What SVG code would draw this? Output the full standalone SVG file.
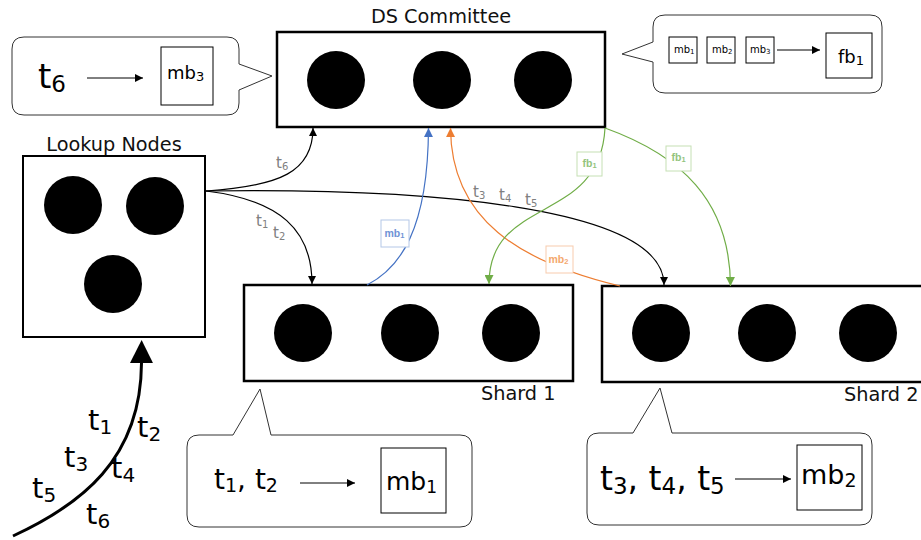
<svg xmlns="http://www.w3.org/2000/svg" width="921" height="540" viewBox="0 0 921 540">
  <style>
    .box { fill: #fff; stroke: #000; stroke-width: 2.5; }
    .dot { fill: #000; }
    .title { font-family: "DejaVu Sans", Verdana, sans-serif; font-size: 19.3px; fill: #111; }
    .txt { font-family: "DejaVu Sans", Verdana, sans-serif; fill: #000; }
    .bubble { fill: #fff; stroke: #333; stroke-width: 1; }
    .block { fill: #fff; stroke: #000; stroke-width: 1; }
    .link { fill: none; stroke: #000; stroke-width: 1.2; }
    .glabel { font-family: "DejaVu Sans", Verdana, sans-serif; font-size: 15px; fill: #808080; }
    .tag { font-family: "Liberation Sans", Arial, sans-serif; font-weight: bold; font-size: 10.5px; }
  </style>
  <defs>
    <marker id="arr" viewBox="0 0 10 10" refX="10" refY="5" markerUnits="userSpaceOnUse" markerWidth="9" markerHeight="8" orient="auto">
      <path d="M0,0 L10,5 L0,10 Z" fill="#000"/>
    </marker>
    <marker id="arrBlue" viewBox="0 0 10 10" refX="10" refY="5" markerUnits="userSpaceOnUse" markerWidth="9" markerHeight="9" orient="auto">
      <path d="M0,0 L10,5 L0,10 Z" fill="#4472C4"/>
    </marker>
    <marker id="arrOrange" viewBox="0 0 10 10" refX="10" refY="5" markerUnits="userSpaceOnUse" markerWidth="9" markerHeight="9" orient="auto">
      <path d="M0,0 L10,5 L0,10 Z" fill="#ED7D31"/>
    </marker>
    <marker id="arrGreen" viewBox="0 0 10 10" refX="10" refY="5" markerUnits="userSpaceOnUse" markerWidth="9" markerHeight="9" orient="auto">
      <path d="M0,0 L10,5 L0,10 Z" fill="#70AD47"/>
    </marker>
    <marker id="arrBig" viewBox="0 0 10 10" refX="0" refY="5" markerUnits="userSpaceOnUse" markerWidth="23" markerHeight="27" orient="auto">
      <path d="M0,0 L10,5 L0,10 Z" fill="#000"/>
    </marker>
  </defs>

  <!-- DS Committee -->
  <g id="ds-committee">
    <text class="title" x="441" y="23" text-anchor="middle">DS Committee</text>
    <rect class="box" x="277" y="32" width="328" height="95"/>
    <circle class="dot" cx="336" cy="80" r="29"/>
    <circle class="dot" cx="442" cy="80" r="29"/>
    <circle class="dot" cx="543" cy="80" r="29"/>
  </g>

  <!-- Lookup Nodes -->
  <g id="lookup-nodes">
    <text class="title" x="114" y="151" text-anchor="middle">Lookup Nodes</text>
    <rect class="box" x="23" y="156" width="182" height="181" style="stroke-width:2"/>
    <circle class="dot" cx="73" cy="205" r="29"/>
    <circle class="dot" cx="155" cy="206" r="29"/>
    <circle class="dot" cx="113" cy="284" r="29"/>
  </g>

  <!-- Shard 1 -->
  <g id="shard-1">
    <rect class="box" x="244" y="285" width="329" height="96"/>
    <circle class="dot" cx="303" cy="333" r="29"/>
    <circle class="dot" cx="410" cy="333" r="29"/>
    <circle class="dot" cx="511" cy="333" r="29"/>
    <text class="title" x="481" y="400">Shard 1</text>
  </g>

  <!-- Shard 2 -->
  <g id="shard-2">
    <rect class="box" x="602" y="286" width="330" height="96"/>
    <circle class="dot" cx="661" cy="333" r="29"/>
    <circle class="dot" cx="767" cy="333" r="29"/>
    <circle class="dot" cx="868" cy="333" r="29"/>
    <text class="title" x="844" y="401">Shard 2</text>
  </g>

  <!-- Callout: t6 -> mb3 -->
  <g id="callout-mb3">
    <path class="bubble" d="M 24 37 H 227 Q 239 37 239 49 V 64 L 272 76 L 239 90 V 103 Q 239 115 227 115 H 24 Q 12 115 12 103 V 49 Q 12 37 24 37 Z"/>
    <text class="txt" x="38" y="88" font-size="34">t<tspan font-size="23" dy="4">6</tspan></text>
    <path class="link" d="M 87 78 H 143" style="stroke-width:1" marker-end="url(#arr)"/>
    <rect class="block" x="161" y="47" width="52" height="58"/>
    <text class="txt" x="167" y="79" font-size="18">mb<tspan font-size="13" dy="2">3</tspan></text>
  </g>

  <!-- Callout: mb1, mb2, mb3 -> fb1 -->
  <g id="callout-fb1">
    <path class="bubble" d="M 665 15 H 870 Q 882 15 882 27 V 81 Q 882 93 870 93 H 665 Q 653 93 653 81 V 62 L 622 54 L 653 42 V 27 Q 653 15 665 15 Z"/>
    <rect class="block" x="669" y="37" width="28" height="26"/>
    <text class="txt" x="674" y="53" font-size="10">mb<tspan font-size="7" dy="1">1</tspan></text>
    <rect class="block" x="707" y="37" width="28" height="26"/>
    <text class="txt" x="712" y="53" font-size="10">mb<tspan font-size="7" dy="1">2</tspan></text>
    <rect class="block" x="746" y="37" width="28" height="26"/>
    <text class="txt" x="750" y="53" font-size="10">mb<tspan font-size="7" dy="1">3</tspan></text>
    <path class="link" d="M 777 50 H 820" style="stroke-width:1" marker-end="url(#arr)"/>
    <rect class="block" x="826" y="33" width="46" height="45"/>
    <text class="txt" x="838" y="63" font-size="18">fb<tspan font-size="13" dy="2">1</tspan></text>
  </g>

  <!-- Callout: t1, t2 -> mb1 -->
  <g id="callout-mb1">
    <path class="bubble" d="M 199 435 H 233 L 260 389 L 271 435 H 460 Q 472 435 472 447 V 515 Q 472 527 460 527 H 199 Q 187 527 187 515 V 447 Q 187 435 199 435 Z"/>
    <text class="txt" x="214" y="489" font-size="28">t<tspan font-size="19" dy="3">1</tspan><tspan dy="-3">, t</tspan><tspan font-size="19" dy="3">2</tspan></text>
    <path class="link" d="M 300 483 H 355" style="stroke-width:1" marker-end="url(#arr)"/>
    <rect class="block" x="381" y="448" width="65" height="65"/>
    <text class="txt" x="386" y="490" font-size="25">mb<tspan font-size="17" dy="3">1</tspan></text>
  </g>

  <!-- Callout: t3, t4, t5 -> mb2 -->
  <g id="callout-mb2">
    <path class="bubble" d="M 599 433 H 633 L 660 388 L 672 433 H 860 Q 872 433 872 445 V 513 Q 872 525 860 525 H 599 Q 587 525 587 513 V 445 Q 587 433 599 433 Z"/>
    <text class="txt" x="600" y="490" font-size="33">t<tspan font-size="23" dy="4">3</tspan><tspan dy="-4">, t</tspan><tspan font-size="23" dy="4">4</tspan><tspan dy="-4">, t</tspan><tspan font-size="23" dy="4">5</tspan></text>
    <path class="link" d="M 735 479 H 791" style="stroke-width:1" marker-end="url(#arr)"/>
    <rect class="block" x="797" y="445" width="65" height="65"/>
    <text class="txt" x="801" y="484" font-size="27">mb<tspan font-size="19" dy="3">2</tspan></text>
  </g>

  <!-- Incoming transactions -->
  <g id="incoming">
    <path d="M 13 536 C 80 505, 141 460, 141.5 363" fill="none" stroke="#000" stroke-width="3" marker-end="url(#arrBig)"/>
    <g class="txt" font-size="29">
      <text x="88" y="430">t<tspan font-size="20" dy="4">1</tspan></text>
      <text x="137" y="437">t<tspan font-size="20" dy="4">2</tspan></text>
      <text x="64" y="467">t<tspan font-size="20" dy="4">3</tspan></text>
      <text x="111" y="478">t<tspan font-size="20" dy="4">4</tspan></text>
      <text x="32" y="498">t<tspan font-size="20" dy="4">5</tspan></text>
      <text x="86" y="524">t<tspan font-size="20" dy="4">6</tspan></text>
    </g>
  </g>

  <!-- Connectors -->
  <g id="connectors">
    <path class="link" d="M 206 191 C 280 186, 313 172, 313 128" marker-end="url(#arr)"/>
    <path class="link" d="M 206 191 C 280 200, 312 230, 312 284" marker-end="url(#arr)"/>
    <path class="link" d="M 206 191 C 420 188, 664 205, 664 285" marker-end="url(#arr)"/>
    <path d="M 367 285 C 400 268, 428 230, 428.5 128" fill="none" stroke="#4472C4" stroke-width="1.2" marker-end="url(#arrBlue)"/>
    <path d="M 620 286 C 520 262, 451 220, 450.5 128" fill="none" stroke="#ED7D31" stroke-width="1.2" marker-end="url(#arrOrange)"/>
    <path d="M 605 128 C 600 225, 489 195, 489 284" fill="none" stroke="#70AD47" stroke-width="1.2" marker-end="url(#arrGreen)"/>
    <path d="M 605 128 C 680 155, 730 200, 730.5 286" fill="none" stroke="#70AD47" stroke-width="1.2" marker-end="url(#arrGreen)"/>

    <!-- transaction labels on the lookup links -->
    <text class="glabel" x="276" y="168">t<tspan font-size="10" dy="2">6</tspan></text>
    <text class="glabel" x="256" y="226">t<tspan font-size="10" dy="2">1</tspan></text>
    <text class="glabel" x="273" y="238">t<tspan font-size="10" dy="2">2</tspan></text>
    <text class="glabel" x="473" y="197">t<tspan font-size="10" dy="2">3</tspan></text>
    <text class="glabel" x="499" y="200">t<tspan font-size="10" dy="2">4</tspan></text>
    <text class="glabel" x="525" y="205">t<tspan font-size="10" dy="2">5</tspan></text>

    <!-- block labels on the coloured links -->
    <rect x="381" y="220" width="28" height="27" fill="#fff" stroke="#B4C7E7" stroke-width="1"/>
    <text class="tag" x="384.5" y="237" fill="#6F93D6">mb<tspan font-size="7.5" dy="1">1</tspan></text>
    <rect x="546" y="246" width="27" height="27" fill="#fff" stroke="#F8CBAD" stroke-width="1"/>
    <text class="tag" x="548.5" y="263" fill="#F4A86E">mb<tspan font-size="7.5" dy="1">2</tspan></text>
    <rect x="577" y="152" width="25" height="24" fill="#fff" stroke="#C5E0B4" stroke-width="1"/>
    <text class="tag" x="582.5" y="167" fill="#93C47D">fb<tspan font-size="7.5" dy="1">1</tspan></text>
    <rect x="666" y="146" width="25" height="25" fill="#fff" stroke="#C5E0B4" stroke-width="1"/>
    <text class="tag" x="671.5" y="161" fill="#93C47D">fb<tspan font-size="7.5" dy="1">1</tspan></text>
  </g>
</svg>
